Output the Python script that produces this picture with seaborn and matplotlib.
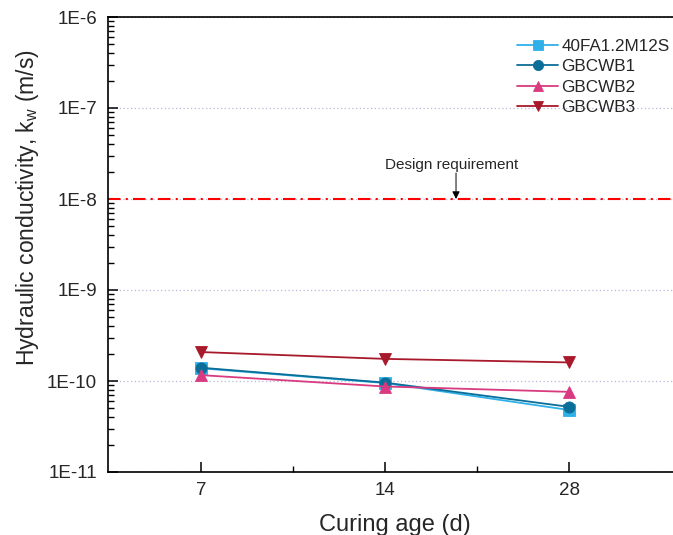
import matplotlib
matplotlib.use("Agg")
import matplotlib.pyplot as plt
import matplotlib.ticker as mticker
import numpy as np
import pandas as pd
import seaborn as sns

# curing ages (d) and hydraulic conductivity (m/s)
AGES = ["7", "14", "28"]
MIXES = ["40FA1.2M12S", "GBCWB1", "GBCWB2", "GBCWB3"]
K_40FA = [1.38e-10, 0.95e-10, 4.8e-11]
K_GB1 = [1.40e-10, 0.96e-10, 5.2e-11]
K_GB2 = [1.16e-10, 0.87e-10, 7.6e-11]
K_GB3 = [2.08e-10, 1.75e-10, 1.60e-10]
DESIGN_K = 1e-8

COLORS = {"40FA1.2M12S": "#2FB0E8", "GBCWB1": "#0B6E99",
          "GBCWB2": "#D93A80", "GBCWB3": "#A8192B"}
MARKERS = {"40FA1.2M12S": "s", "GBCWB1": "o", "GBCWB2": "^", "GBCWB3": "v"}

sns.set_style("white")
plt.rcParams["font.family"] = ["Liberation Sans", "DejaVu Sans"]

rows = []
for mix, vals in zip(MIXES, [K_40FA, K_GB1, K_GB2, K_GB3]):
    for i, (age, k) in enumerate(zip(AGES, vals)):
        rows.append({"pos": i, "age": age, "k": k, "mix": mix})
df = pd.DataFrame(rows)

fig = plt.figure(figsize=(6.73, 5.35), dpi=100)
# the plot runs off the right edge of the picture, as in the reference
ax = fig.add_axes([108 / 673, 63 / 535, 565 / 673, 455 / 535])

sns.lineplot(data=df, x="pos", y="k", hue="mix", style="mix",
             hue_order=MIXES, style_order=MIXES, palette=COLORS,
             markers=MARKERS, dashes=False, estimator=None,
             markersize=8, markeredgewidth=0.6, linewidth=1.3, ax=ax)
for ln in ax.lines:
    ln.set_markeredgecolor(ln.get_color())

ax.axhline(DESIGN_K, color="#FF0000", lw=1.5, ls=(0, (6, 2.5, 1, 2.5)), zorder=1)
ax.text(1.364, 2.37e-8, "Design requirement", ha="center", va="center", fontsize=11)
ax.annotate("", xy=(1.386, DESIGN_K), xytext=(1.386, 1.93e-8),
            arrowprops=dict(arrowstyle="-|>", color="black", lw=0.7,
                            mutation_scale=11, shrinkA=0, shrinkB=0))

ax.set_yscale("log")
ax.set_ylim(1e-11, 1e-6)
ax.set_xlim(-0.505, 2.565)
ax.set_xticks(range(len(AGES)))
ax.set_xticklabels(AGES)
ax.xaxis.set_minor_locator(mticker.FixedLocator([0.5, 1.5]))
ax.yaxis.set_major_locator(mticker.LogLocator(base=10, numticks=10))
ax.yaxis.set_minor_locator(mticker.LogLocator(base=10, subs=np.arange(2, 10), numticks=10))
ax.yaxis.set_minor_formatter(mticker.NullFormatter())
ax.yaxis.set_major_formatter(mticker.FuncFormatter(lambda v, p: f"1E{int(round(np.log10(v)))}"))

ax.tick_params(axis="both", which="major", direction="in", length=7, width=1.1,
               labelsize=13.5, color="black")
ax.tick_params(axis="both", which="minor", direction="in", length=4, width=1.0,
               color="black")
ax.tick_params(axis="y", pad=8)
ax.tick_params(axis="x", pad=7)
ax.tick_params(which="both", left=True, bottom=True, top=False, right=False)

for s in ax.spines.values():
    s.set_color("black")
    s.set_linewidth(1.2)
ax.spines["right"].set_visible(False)

ax.yaxis.grid(True, which="major", color="#B8B8D8", ls=(0, (1, 2)), lw=0.9)
ax.set_axisbelow(True)

ax.set_xlabel("Curing age (d)", fontsize=17)
ax.xaxis.set_label_coords(0.508, -0.092)
ax.set_ylabel("Hydraulic conductivity, k$_\\mathregular{w}$ (m/s)", fontsize=16.5)
ax.yaxis.set_label_coords(-0.118, 0.58)

leg = ax.legend(loc="upper left", bbox_to_anchor=(517 / 673, 0.928),
                bbox_transform=fig.transFigure, frameon=False, fontsize=12.3,
                borderpad=0, borderaxespad=0, handlelength=2.4,
                handletextpad=0.2, labelspacing=0.33, markerscale=0.92)

fig.savefig("out.png", dpi=100)
